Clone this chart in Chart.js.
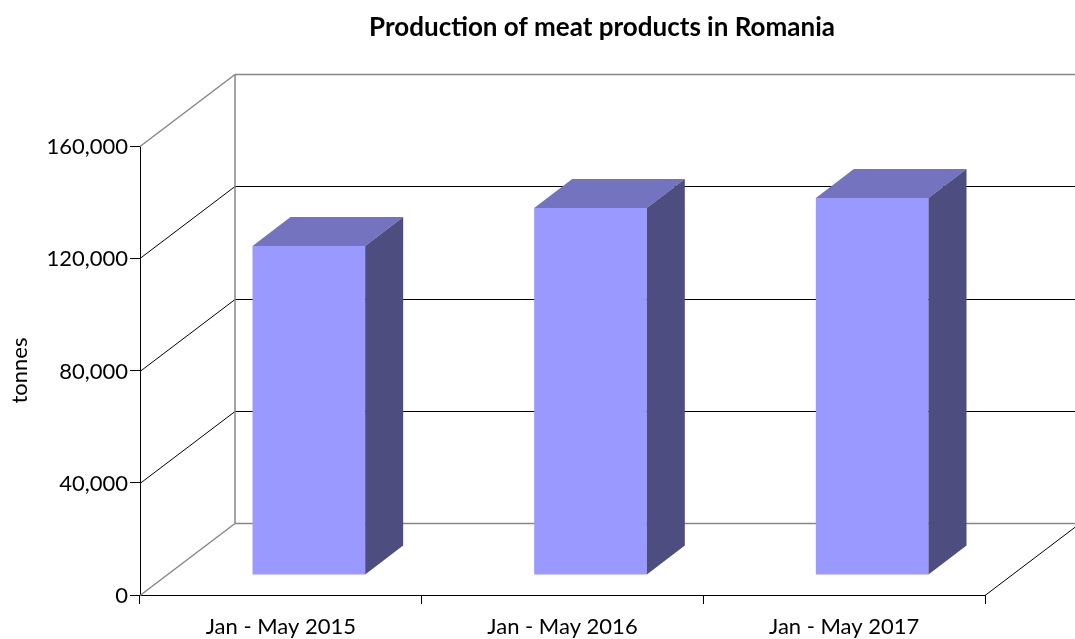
<!DOCTYPE html>
<html>
<head>
<meta charset="utf-8">
<title>Production of meat products in Romania</title>
<script src="https://cdn.jsdelivr.net/npm/chart.js@4"></script>
<style>
  html, body { margin: 0; padding: 0; background: #ffffff; }
  canvas { display: block; }
</style>
</head>
<body>
<canvas id="chart" width="1075" height="639"></canvas>
<script>
var categories = ['Jan - May 2015', 'Jan - May 2016', 'Jan - May 2017'];
var tonnes = [117250, 130750, 134350];

var yMax = 160000;
var yStep = 40000;

// 3D look: how far the back wall and the bars are pushed from the front plane
var wallDepth = { x: 95, y: -72 };
var barShift = { x: 28, y: -20 };
var barDepth = { x: 38, y: -29 };

var fontName = 'Lato, sans-serif';
var grey = '#868686';

function drawLine(ctx, x1, y1, x2, y2, color, width) {
  ctx.beginPath();
  ctx.moveTo(x1, y1);
  ctx.lineTo(x2, y2);
  ctx.strokeStyle = color;
  ctx.lineWidth = width;
  ctx.stroke();
}

function drawFace(ctx, points, color) {
  ctx.beginPath();
  ctx.moveTo(points[0][0], points[0][1]);
  for (var i = 1; i < points.length; i++) {
    ctx.lineTo(points[i][0], points[i][1]);
  }
  ctx.closePath();
  ctx.fillStyle = color;
  ctx.fill();
}

var box3d = {
  id: 'box3d',
  afterLayout: function (chart) {
    // title is centred right of the page in the original, around x = 602
    chart.titleBlock.left = 219;
  },
  beforeDatasetsDraw: function (chart) {
    var ctx = chart.ctx;
    var area = chart.chartArea;
    var y = chart.scales.y;
    var width = chart.width;

    ctx.save();
    // side wall and back wall lines, one for each y tick
    for (var v = 0; v <= yMax; v += yStep) {
      var py = Math.round(y.getPixelForValue(v)) + 0.5;
      var edge = v === 0 || v === yMax;
      var color = edge ? grey : '#000000';
      var lw = edge ? 1.5 : 1;
      drawLine(ctx, area.left, py, area.left + wallDepth.x, py + wallDepth.y, color, lw);
      drawLine(ctx, area.left + wallDepth.x, py + wallDepth.y, width, py + wallDepth.y, color, lw);
    }
    // back corner
    var top = y.getPixelForValue(yMax) + wallDepth.y;
    var bottom = y.getPixelForValue(0) + wallDepth.y;
    drawLine(ctx, area.left + wallDepth.x, top, area.left + wallDepth.x, bottom, grey, 1.5);
    // floor edge on the right
    drawLine(ctx, area.right, area.bottom + 0.5, area.right + wallDepth.x, area.bottom + 0.5 + wallDepth.y, '#000000', 1);
    ctx.restore();
  },
  beforeDatasetDraw: function (chart) {
    // native bars are the front faces, just moved into the box
    chart.ctx.save();
    chart.ctx.translate(barShift.x, barShift.y);
  },
  afterDatasetDraw: function (chart, args) {
    var ctx = chart.ctx;
    ctx.restore();
    var bars = args.meta.data;
    for (var i = 0; i < bars.length; i++) {
      var left = bars[i].x - bars[i].width / 2 + barShift.x;
      var right = bars[i].x + bars[i].width / 2 + barShift.x;
      var tp = bars[i].y + barShift.y;
      var bt = bars[i].base + barShift.y;
      drawFace(ctx, [
        [left, tp], [right, tp],
        [right + barDepth.x, tp + barDepth.y], [left + barDepth.x, tp + barDepth.y]
      ], '#7373BF');
      drawFace(ctx, [
        [right, tp], [right + barDepth.x, tp + barDepth.y],
        [right + barDepth.x, bt + barDepth.y], [right, bt]
      ], '#4D4D80');
    }
  }
};

window.addEventListener('DOMContentLoaded', function () {
  var ctx = document.getElementById('chart').getContext('2d');

  new Chart(ctx, {
    type: 'bar',
    data: {
      labels: categories,
      datasets: [{
        label: 'tonnes',
        data: tonnes,
        backgroundColor: '#9999FF',
        borderWidth: 0,
        barPercentage: 0.4,
        categoryPercentage: 1,
        clip: false
      }]
    },
    options: {
      responsive: false,
      animation: false,
      layout: { padding: { right: 90 } },
      plugins: {
        legend: { display: false },
        tooltip: { enabled: false },
        title: {
          display: true,
          text: 'Production of meat products in Romania',
          color: '#000000',
          font: { family: fontName, size: 26, weight: 'bold' },
          padding: { top: 12.5, bottom: 102.3 }
        }
      },
      scales: {
        x: {
          afterFit: function (scale) { scale.height = 44; },
          border: { color: '#000000', width: 1 },
          grid: { drawOnChartArea: false, drawTicks: true, tickLength: 9, color: '#000000' },
          ticks: { color: '#000000', font: { family: fontName, size: 22 }, padding: 10, maxRotation: 0 }
        },
        y: {
          min: 0,
          max: yMax,
          afterFit: function (scale) { scale.width = 140; },
          border: { color: '#000000', width: 1 },
          grid: { drawOnChartArea: false, drawTicks: true, tickLength: 10, color: '#000000' },
          ticks: { stepSize: yStep, color: '#000000', font: { family: fontName, size: 22 }, padding: 2, labelOffset: 1 },
          title: {
            display: true,
            text: 'tonnes',
            color: '#000000',
            font: { family: fontName, size: 22 },
            padding: { top: 7, bottom: 0 }
          }
        }
      }
    },
    plugins: [box3d]
  });
});
</script>
</body>
</html>
